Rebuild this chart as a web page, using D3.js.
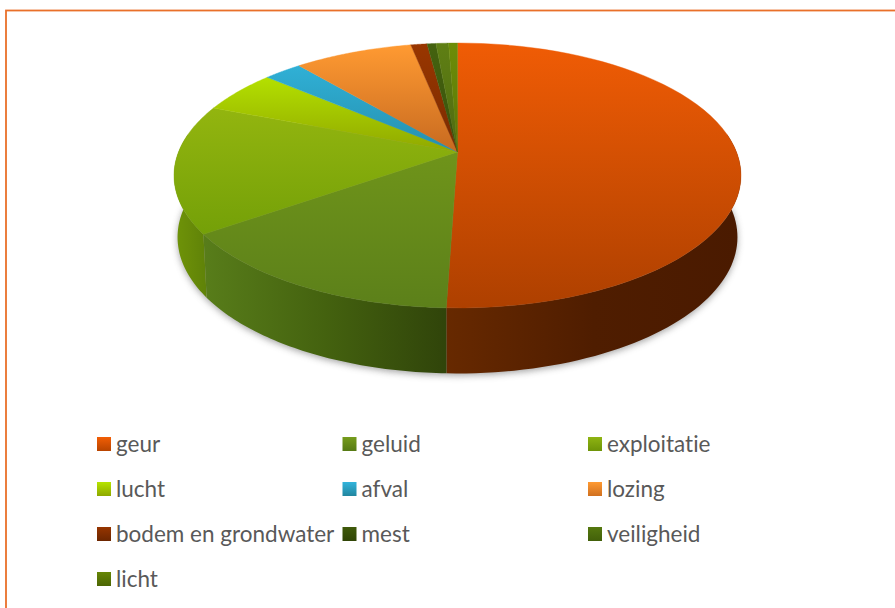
<!DOCTYPE html>
<html><head><meta charset="utf-8">
<script src="https://cdn.jsdelivr.net/npm/d3@7/dist/d3.min.js"></script>
<style>html,body{margin:0;padding:0;background:#fff;overflow:hidden}svg{display:block}</style>
</head><body><svg id="c" width="895" height="608"></svg>
<script>
const categories=["geur","geluid","exploitatie","lucht","afval","lozing","bodem en grondwater","mest","veiligheid","licht"];
const values=[50.5,14.7,15.7,5.3,2.6,8,1.1,0.6,0.85,0.6];
const topStart=["#f05c05","#6f941a","#93b50f","#b4e000","#30b0d6","#ff9a32","#993600","#44620f","#5f7f14","#6d8d08"];
const topEnd=["#ae4000","#5c801a","#74a008","#90a800","#2590ae","#c76a20","#7a2b00","#3a520c","#4f6a10","#5a7606"];
const wallLeft=["#672900","#587d1a","#6f9408","#90a800","#2590ae","#c76a20","#7a2b00","#3a520c","#4f6a10","#5a7606"];
const wallMid=["#4f1d00","#44620f","#688b08","#90a800","#2590ae","#c76a20","#7a2b00","#3a520c","#4f6a10","#5a7606"];
const wallRight=["#4a1a00","#30440a","#5f8208","#90a800","#2590ae","#c76a20","#7a2b00","#3a520c","#4f6a10","#5a7606"];
const legendTop=["#f25e05","#769c1c","#8fb412","#b6e400","#32b4dc","#ff9a32","#963500","#3f5a0a","#55780f","#668606"];
const legendBottom=["#b84400","#567a14","#6e9408","#8ea800","#22869f","#d0701f","#6c2600","#304506","#42600a","#4c6604"];
const legendColumns=[0,1,2];
const legendRows=[0,1,2,3];

const svg=d3.select("#c"),defs=svg.append("defs");
const cx=457.5,k=0.1774;
const topRim={A:279,B:128.3,y0:152};
const lowRim={A:275.5,B:132,y0:213};
const project=(rim,a,r=1)=>{const u=r*Math.sin(a),v=r*Math.cos(a),f=1+k*v;return [cx+rim.A*u/f,rim.y0-rim.B*v/f];};
const arcs=d3.pie().sort(null).value(d=>d)(values);
const grad=(id,cols,h)=>{const g=defs.append("linearGradient").attr("id",id).attr("x1",0).attr("y1",0).attr("x2",h?1:0).attr("y2",h?0:1);
  cols.forEach((c,j)=>g.append("stop").attr("offset",j/(cols.length-1)).attr("stop-color",c));};
const sample=(a0,a1)=>d3.range(0,61).map(i=>a0+(a1-a0)*i/60);
const line=d3.line();

defs.append("filter").attr("id","blur").attr("x","-10%").attr("y","-10%").attr("width","120%").attr("height","120%")
  .append("feGaussianBlur").attr("stdDeviation",3.5);

// border
svg.append("rect").attr("x",6).attr("y",10.5).attr("width",1000).attr("height",1000)
  .attr("fill","none").attr("stroke","#e9702a").attr("stroke-width",1.8);

// shadow
const full=sample(0,2*Math.PI);
svg.append("path").attr("d",line(full.map(a=>{const p=project(lowRim,a);return [p[0],p[1]+2];}))+"Z")
  .attr("fill","#555").attr("opacity",.55).attr("filter","url(#blur)");

// walls
const lim0=82*Math.PI/180,lim1=278*Math.PI/180;
arcs.forEach((d,i)=>{
  const a0=Math.max(d.startAngle,lim0),a1=Math.min(d.endAngle,lim1);
  if(a1<=a0)return;
  grad("w"+i,[wallLeft[i],wallMid[i],wallRight[i]],true);
  const s=sample(a0,a1);
  const pts=s.map(a=>project(topRim,a)).concat(s.slice().reverse().map(a=>project(lowRim,a)));
  svg.append("path").attr("d",line(pts)+"Z").attr("fill",`url(#w${i})`);
});

// top face
arcs.forEach((d,i)=>{
  grad("t"+i,[topStart[i],topEnd[i]],false);
  const pts=[project(topRim,0,0)].concat(sample(d.startAngle,d.endAngle).map(a=>project(topRim,a)));
  svg.append("path").attr("d",line(pts)+"Z").attr("fill",`url(#t${i})`)
    .attr("stroke",`url(#t${i})`).attr("stroke-width",.4);
});

// legend
const xs=d3.scalePoint().domain(legendColumns).range([97,588]);
const ys=d3.scalePoint().domain(legendRows).range([444,579]);
categories.forEach((c,i)=>{
  const col=i%3,row=Math.floor(i/3);
  grad("l"+i,[legendTop[i],legendBottom[i]],false);
  const g=svg.append("g").attr("transform",`translate(${xs(col)},${ys(row)})`);
  g.append("rect").attr("x",0).attr("y",-7).attr("width",14).attr("height",14).attr("fill",`url(#l${i})`);
  g.append("text").attr("x",19).attr("y",8).text(c)
    .attr("font-family","Lato, 'Open Sans', sans-serif").attr("font-size",22.5)
    .style("font-variant-ligatures","none").attr("fill","#595959");
});
</script></body></html>
